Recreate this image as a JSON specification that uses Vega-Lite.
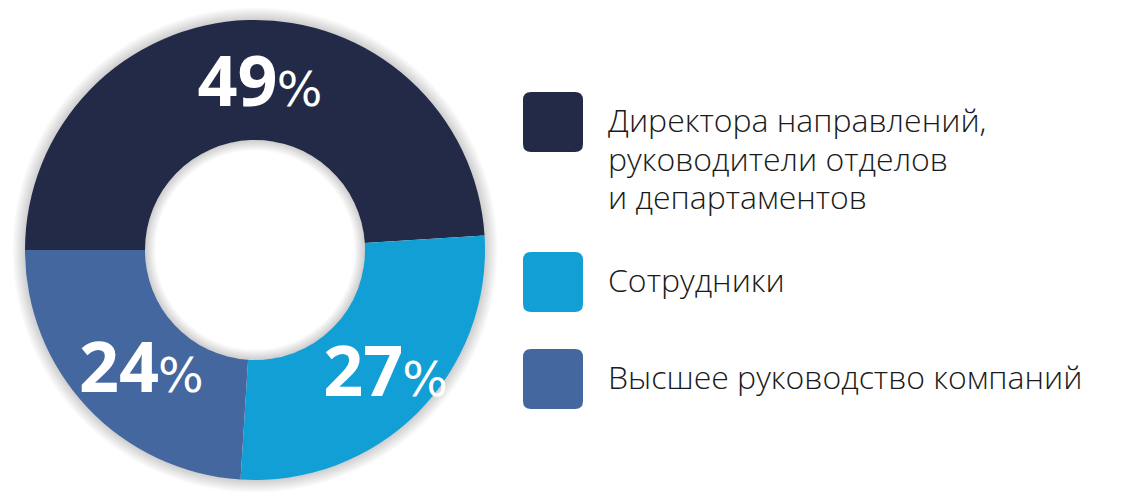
{
  "$schema": "https://vega.github.io/schema/vega-lite/v6.json",
  "width": 510,
  "height": 500,
  "padding": 0,
  "autosize": {"type": "pad"},
  "background": "white",
  "config": {
    "view": {"stroke": null},
    "style": {"guide-label": {"lineHeight": 38.5}}
  },
  "data": {
    "values": [
      {"group": "Директора направлений,\nруководители отделов\nи департаментов", "value": 49},
      {"group": "Сотрудники", "value": 27},
      {"group": "Высшее руководство компаний", "value": 24}
    ]
  },
  "layer": [
    {
      "data": {"values": [{"ring": "outer"}]},
      "mark": {
        "type": "arc", "theta": 0, "theta2": 6.2832, "outerRadius": 243, "innerRadius": 228,
        "fill": {"gradient": "radial", "x1": 0.5, "y1": 0.5, "x2": 0.5, "y2": 0.5, "r1": 0.469, "r2": 0.5,
          "stops": [{"offset": 0, "color": "rgba(0,0,0,0.22)"}, {"offset": 1, "color": "rgba(0,0,0,0)"}]}
      },
      "encoding": {}
    },
    {
      "mark": {"type": "arc", "outerRadius": 230, "innerRadius": 110, "stroke": null},
      "encoding": {
        "theta": {"field": "value", "type": "quantitative", "stack": true, "scale": {"range": [4.712389, 10.995574]}},
        "order": {"field": "value", "type": "quantitative", "sort": "descending"},
        "color": {
          "field": "group",
          "type": "nominal",
          "scale": {
            "domain": ["Директора направлений,\nруководители отделов\nи департаментов", "Сотрудники", "Высшее руководство компаний"],
            "range": ["#232a48", "#119fd6", "#4467a0"]
          },
          "legend": {
            "orient": "none",
            "legendX": 523,
            "legendY": 92,
            "title": null,
            "symbolType": "M -0.73 -1 L 0.73 -1 Q 1 -1 1 -0.73 L 1 0.73 Q 1 1 0.73 1 L -0.73 1 Q -1 1 -1 0.73 L -1 -0.73 Q -1 -1 -0.73 -1 Z",
            "symbolSize": 3600,
            "symbolStrokeWidth": 0,
            "symbolOpacity": 1,
            "labelFont": "Open Sans",
            "labelFontSize": 32,
            "labelFontWeight": 300,
            "labelColor": "#1a1a1a",
            "labelLimit": 0,
            "labelOffset": 25,
            "labelBaseline": "middle",
            "rowPadding": 37,
            "labelExpr": "indexof(datum.label, '\\n') >= 0 ? split(datum.label, '\\n') : datum.label"
          }
        }
      }
    },
    {
      "data": {"values": [{"ring": "inner"}]},
      "mark": {
        "type": "arc", "theta": 0, "theta2": 6.2832, "outerRadius": 110, "innerRadius": 99,
        "fill": {"gradient": "radial", "x1": 0.5, "y1": 0.5, "x2": 0.5, "y2": 0.5, "r1": 0.45, "r2": 0.5,
          "stops": [{"offset": 0, "color": "rgba(0,0,0,0)"}, {"offset": 1, "color": "rgba(0,0,0,0.2)"}]}
      },
      "encoding": {}
    },
    {
      "mark": {"type": "text", "radius": 170, "font": "Open Sans", "fontWeight": "bold", "fontSize": 70, "align": "right", "baseline": "alphabetic", "dx": 28, "dy": 26, "color": "white"},
      "encoding": {
        "theta": {"field": "value", "type": "quantitative", "stack": true},
        "order": {"field": "value", "type": "quantitative", "sort": "descending"},
        "detail": {"field": "group", "type": "nominal"},
        "text": {"field": "value", "type": "quantitative"}
      }
    },
    {
      "mark": {"type": "text", "radius": 170, "text": "%", "font": "DejaVu Sans", "fontWeight": "normal", "fontSize": 48, "align": "left", "baseline": "alphabetic", "dx": 27, "dy": 26, "color": "white"},
      "encoding": {
        "theta": {"field": "value", "type": "quantitative", "stack": true},
        "order": {"field": "value", "type": "quantitative", "sort": "descending"},
        "detail": {"field": "group", "type": "nominal"}
      }
    }
  ]
}
